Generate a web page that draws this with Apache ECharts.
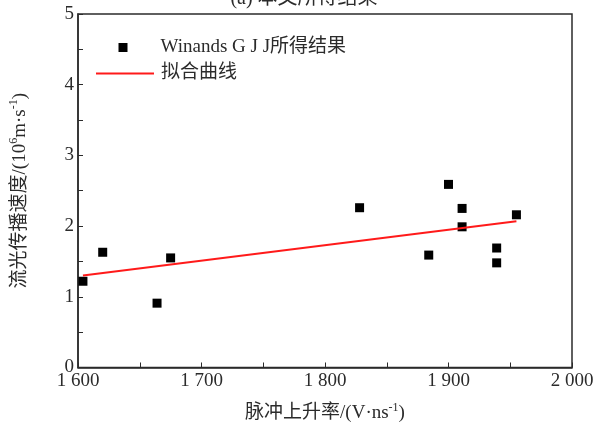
<!DOCTYPE html>
<html>
<head>
<meta charset="utf-8">
<script src="https://cdn.jsdelivr.net/npm/echarts@6/dist/echarts.min.js"></script>
<style>
  html, body { margin: 0; padding: 0; background: #fff; }
  #chart { width: 608px; height: 428px; }
</style>
</head>
<body>
<div id="chart"></div>
<script>
// 脉冲上升率 / 流光传播速度 散点
const pulseRate = [1604, 1620, 1664, 1675, 1828, 1884, 1900, 1911, 1911, 1939, 1939, 1955];
const speed = [1.22, 1.63, 0.91, 1.55, 2.26, 1.59, 2.59, 2.25, 1.99, 1.69, 1.48, 2.16];
// 拟合直线两端
const fitX = [1604, 1955];
const fitY = [1.30, 2.07];
const xTicks = [1600, 1700, 1800, 1900, 2000];
const yTicks = [0, 1, 2, 3, 4, 5];

const font = "'Liberation Serif', 'Noto Sans CJK SC', serif";
const ink = '#2b2b2b';

const chart = echarts.init(document.getElementById('chart'));

chart.setOption({
  animation: false,
  textStyle: { fontFamily: font, color: ink },
  title: {
    text: '(a) 本文所得结果',
    left: 'center',
    top: -16,
    textStyle: { fontFamily: font, fontSize: 20, fontWeight: 'normal', color: ink }
  },
  grid: { left: 78, right: 36, top: 14, bottom: 52, show: true, borderColor: ink, borderWidth: 1.5 },
  legend: [{
    data: ['Winands G J J所得结果'],
    left: 118.5, top: 38, padding: 0,
    itemWidth: 9, itemHeight: 9,
    icon: 'rect',
    textStyle: { fontFamily: font, fontSize: 19, color: ink, padding: [0, 0, 0, 28] }
  }, {
    data: ['拟合曲线'],
    left: 95, top: 64, padding: 0,
    itemWidth: 58, itemHeight: 14,
    itemStyle: { color: 'transparent', borderColor: 'transparent', borderWidth: 0 },
    textStyle: { fontFamily: font, fontSize: 19, color: ink, padding: [0, 0, 0, 2] }
  }],
  xAxis: {
    type: 'value',
    min: xTicks[0], max: xTicks[xTicks.length - 1], interval: 100,
    name: '脉冲上升率/(V·ns{sup|-1})',
    nameLocation: 'middle', nameGap: 34,
    nameTextStyle: {
      fontFamily: font, fontSize: 19, color: ink,
      rich: { sup: { fontSize: 12, padding: [0, 0, 12, 0], fontFamily: font, color: ink } }
    },
    axisLine: { lineStyle: { color: ink, width: 1.5 } },
    axisTick: { inside: true, length: 5, lineStyle: { color: ink } },
    minorTick: { show: true, splitNumber: 2, length: 5, lineStyle: { color: ink } },
    axisLabel: {
      fontFamily: font, fontSize: 19, color: ink, margin: 4,
      formatter: v => String(v).replace(/(\d)(\d{3})$/, '$1 $2')
    },
    splitLine: { show: false }
  },
  yAxis: {
    type: 'value',
    min: yTicks[0], max: yTicks[yTicks.length - 1], interval: 1,
    name: '流光传播速度/(10{sup|6}m·s{sup|-1})',
    nameLocation: 'middle', nameGap: 46, nameRotate: 90,
    nameTextStyle: {
      fontFamily: font, fontSize: 19, color: ink,
      rich: { sup: { fontSize: 12, padding: [0, 0, 12, 0], fontFamily: font, color: ink } }
    },
    axisLine: { show: true, lineStyle: { color: ink, width: 1.5 } },
    axisTick: { inside: true, length: 5, lineStyle: { color: ink } },
    minorTick: { show: true, splitNumber: 2, length: 5, lineStyle: { color: ink } },
    axisLabel: { fontFamily: font, fontSize: 19, color: ink, margin: 4 },
    splitLine: { show: false }
  },
  series: [{
    name: 'Winands G J J所得结果',
    type: 'scatter',
    symbol: 'rect',
    symbolSize: 9,
    itemStyle: { color: '#000', opacity: 1 },
    data: pulseRate.map((x, i) => [x, speed[i]])
  }, {
    name: '拟合曲线',
    type: 'line',
    symbol: 'none',
    lineStyle: { color: '#ff1a1a', width: 2 },
    itemStyle: { color: '#ff1a1a' },
    data: fitX.map((x, i) => [x, fitY[i]])
  }]
});
</script>
</body>
</html>
